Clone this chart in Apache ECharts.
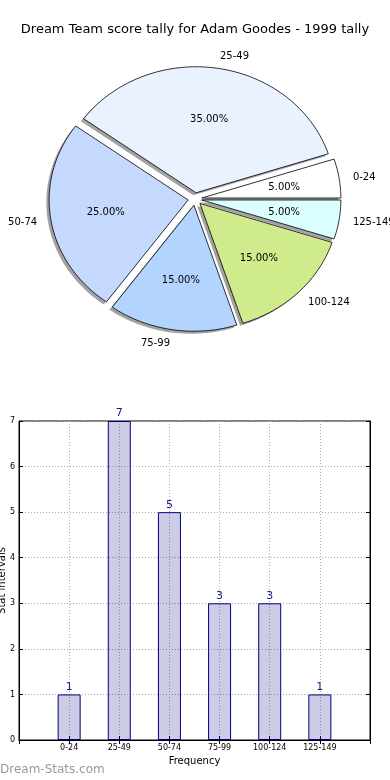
<!DOCTYPE html>
<html>
<head>
<meta charset="utf-8">
<script src="https://cdn.jsdelivr.net/npm/echarts@6/dist/echarts.min.js"></script>
<style>
html,body{margin:0;padding:0;background:#fff;}
#chart{width:390px;height:780px;}
</style>
</head>
<body>
<div id="chart"></div>
<script>
const chartTitle = 'Dream Team score tally for Adam Goodes - 1999 tally';
const categories = ['0-24', '25-49', '50-74', '75-99', '100-124', '125-149'];
const counts = [1, 7, 5, 3, 3, 1];
const sliceColors = ['#ffffff', '#eaf1ff', '#c5d9ff', '#b3d4ff', '#d0eb8b', '#dbffff'];
const yMax = 7;
const yInterval = 1;
const xAxisName = 'Frequency';
const yAxisName = 'Stat intervals';
const watermark = 'Dream-Stats.com';

const FONT = 'DejaVu Sans';
const EXPLODE = 0.05;
const LABEL_DIST = 1.1;
const PCT_DIST = 0.6;

const chart = echarts.init(document.getElementById('chart'), null, {renderer: 'canvas'});

// cumulative fractions derived from counts (matplotlib-style pie: start at 0 deg, counter-clockwise)
const total = counts.reduce((a, b) => a + b, 0);
let acc = 0;
const pieRows = counts.map((v, i) => {
  const start = acc / total;
  acc += v;
  return [0, 0, start, acc / total, v, i];
});

function wedgePoints(api, start, end, dx, dy) {
  const a1 = start * 2 * Math.PI, a2 = end * 2 * Math.PI;
  const mid = (a1 + a2) / 2;
  const ex = EXPLODE * Math.cos(mid) + dx, ey = EXPLODE * Math.sin(mid) + dy;
  const n = Math.max(4, Math.ceil((a2 - a1) / (Math.PI / 120)));
  const pts = [api.coord([ex, ey])];
  for (let k = 0; k <= n; k++) {
    const a = a1 + (a2 - a1) * k / n;
    pts.push(api.coord([ex + Math.cos(a), ey + Math.sin(a)]));
  }
  return pts;
}

function renderShadow(params, api) {
  const pts = wedgePoints(api, api.value(2), api.value(3), -0.02, -0.02);
  return {type: 'polygon', shape: {points: pts}, style: {fill: 'rgba(70,70,70,0.5)', stroke: null}};
}

function renderWedge(params, api) {
  const start = api.value(2), end = api.value(3), idx = api.value(5);
  const mid = (start + end) * Math.PI;
  const ex = EXPLODE * Math.cos(mid), ey = EXPLODE * Math.sin(mid);
  const pts = wedgePoints(api, start, end, 0, 0);
  const lx = ex + LABEL_DIST * Math.cos(mid), ly = ey + LABEL_DIST * Math.sin(mid);
  const lp = api.coord([lx, ly]);
  const pp = api.coord([ex + PCT_DIST * Math.cos(mid), ey + PCT_DIST * Math.sin(mid)]);
  const pct = ((end - start) * 100).toFixed(2) + '%';
  return {
    type: 'group',
    children: [
      {type: 'polygon', shape: {points: pts},
       style: {fill: sliceColors[idx], stroke: '#000', lineWidth: 0.8}},
      {type: 'text', x: lp[0], y: lp[1] + 1,
       style: {text: categories[idx], fill: '#000', fontSize: 10, fontFamily: FONT,
               align: lx > 0 ? 'left' : 'right', verticalAlign: 'middle'}},
      {type: 'text', x: pp[0], y: pp[1] + 1,
       style: {text: pct, fill: '#000', fontSize: 10, fontFamily: FONT,
               align: 'center', verticalAlign: 'middle'}}
    ]
  };
}

const gridLine = {show: true, lineStyle: {type: [1, 2], color: '#aaaaaa', width: 1}};

const option = {
  backgroundColor: '#ffffff',
  animation: false,
  textStyle: {fontFamily: FONT},
  title: [
    {text: chartTitle, left: 'center', top: 23, padding: 0,
     textStyle: {fontSize: 13, fontWeight: 'normal', color: '#000', fontFamily: FONT}},
    {text: watermark, left: 0, top: 764, padding: 0,
     textStyle: {fontSize: 12, fontWeight: 'normal', color: '#999999', fontFamily: FONT}}
  ],
  grid: [
    {left: 19, right: 20, top: 421, bottom: 40, containLabel: false, outerBoundsMode: 'none',
     show: true, borderColor: '#000', borderWidth: 1},
    // hidden unit frame for the (elliptical) pie: 1 unit = 139px horizontally, 126px vertically
    {left: 14.3, right: 14.3, top: 35.2, bottom: 417.2, containLabel: false, outerBoundsMode: 'none', show: false}
  ],
  xAxis: [
    {
      type: 'category', gridIndex: 0, data: [''].concat(categories, ['']), boundaryGap: false,
      axisLine: {lineStyle: {color: '#000'}},
      axisTick: {inside: true, length: 4, interval: 0, lineStyle: {color: '#000'}},
      axisLabel: {fontSize: 8, color: '#000', margin: 4, interval: 0, fontFamily: FONT},
      splitLine: Object.assign({interval: 0}, gridLine),
      name: xAxisName, nameLocation: 'middle', nameGap: 16, nameMoveOverlap: false,
      nameTextStyle: {fontSize: 10, color: '#000', fontFamily: FONT}
    },
    {type: 'value', gridIndex: 1, min: -1.3, max: 1.3, show: false},
    {
      type: 'category', gridIndex: 0, position: 'top', data: [''].concat(categories, ['']), boundaryGap: false,
      axisLine: {lineStyle: {color: '#000'}},
      axisTick: {inside: true, length: 4, interval: 0, lineStyle: {color: '#000'}},
      axisLabel: {show: false}, splitLine: {show: false}
    }
  ],
  yAxis: [
    {
      type: 'value', gridIndex: 0, min: 0, max: yMax, interval: yInterval,
      axisLine: {show: true, lineStyle: {color: '#000'}},
      axisTick: {show: true, inside: true, length: 4, lineStyle: {color: '#000'}},
      axisLabel: {fontSize: 8, color: '#000', margin: 4, fontFamily: FONT},
      splitLine: gridLine,
      name: yAxisName, nameLocation: 'middle', nameGap: 12, nameRotate: 90, nameMoveOverlap: false,
      nameTextStyle: {fontSize: 10, color: '#000', fontFamily: FONT}
    },
    {type: 'value', gridIndex: 1, min: -1.3, max: 1.3, show: false},
    {
      type: 'value', gridIndex: 0, position: 'right', min: 0, max: yMax, interval: yInterval,
      axisLine: {show: true, lineStyle: {color: '#000'}},
      axisTick: {show: true, inside: true, length: 4, lineStyle: {color: '#000'}},
      axisLabel: {show: false}, splitLine: {show: false}
    }
  ],
  series: [
    {
      type: 'custom', name: 'shadow', xAxisIndex: 1, yAxisIndex: 1, clip: false, silent: true, z: 1,
      encode: {x: 0, y: 1}, data: pieRows, renderItem: renderShadow
    },
    {
      type: 'custom', name: 'wedges', xAxisIndex: 1, yAxisIndex: 1, clip: false, silent: true, z: 2,
      encode: {x: 0, y: 1}, data: pieRows, renderItem: renderWedge
    },
    {
      type: 'bar', xAxisIndex: 0, yAxisIndex: 0, data: [null].concat(counts, [null]), barWidth: 23,
      itemStyle: {color: 'rgba(0,0,128,0.2)', borderColor: '#000080', borderWidth: 1},
      label: {show: true, position: 'top', distance: 2, fontSize: 11, color: '#1a1a8c', fontFamily: FONT},
      silent: true
    }
  ]
};
chart.setOption(option);
</script>
</body>
</html>
